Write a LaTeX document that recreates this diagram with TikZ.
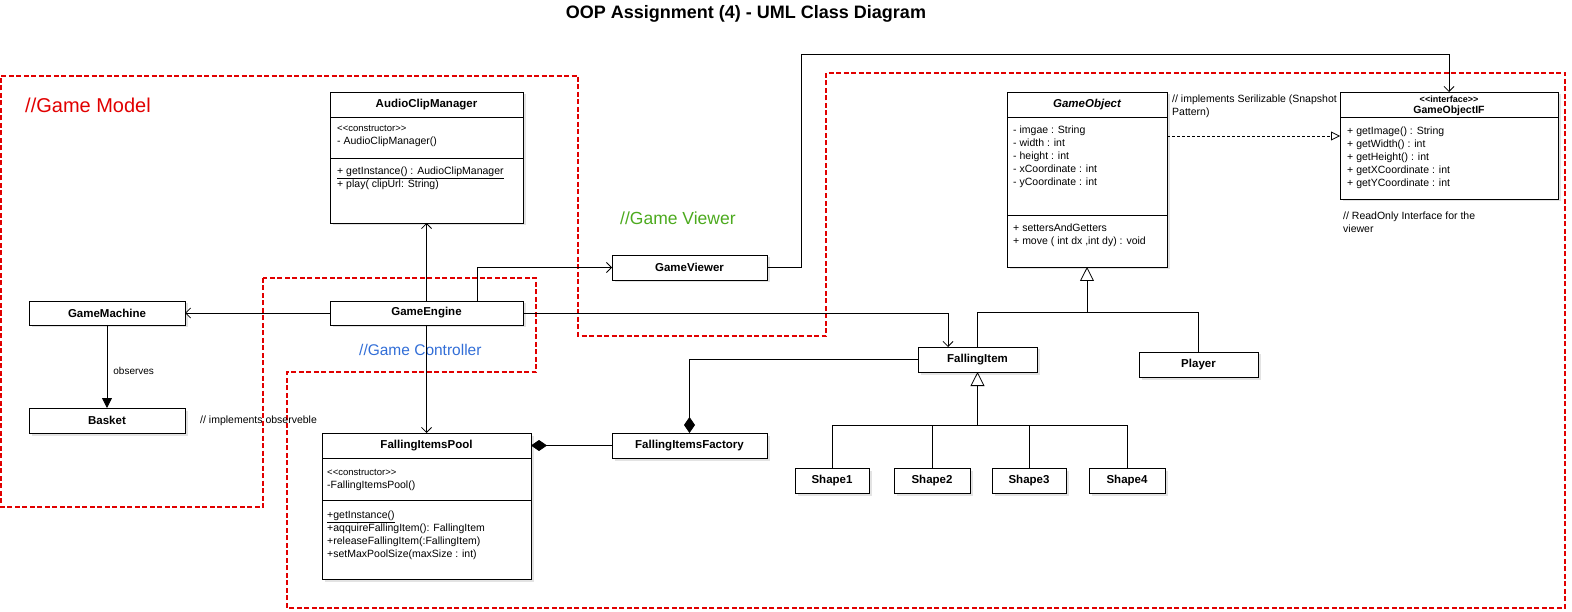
\documentclass[tikz,border=0pt]{standalone}
\usepackage{fontspec}
\setmainfont{Liberation Sans}
\usetikzlibrary{arrows.meta,shadows}
\definecolor{regred}{RGB}{225,0,0}
\definecolor{viewgreen}{RGB}{76,170,30}
\definecolor{ctrlblue}{RGB}{50,110,215}

\begin{document}
\begin{tikzpicture}[x=1pt,y=-1pt,
  cls/.style={draw,fill=white,line width=0.8pt,inner sep=0pt,outer sep=0pt,anchor=north west,
    font=\fontsize{11.5}{13}\selectfont\bfseries,
    drop shadow={opacity=0.22,shadow xshift=2.5pt,shadow yshift=-2.5pt}},
  clsname/.style={inner sep=0pt,font=\fontsize{11.5}{13}\selectfont\bfseries},
  mem/.style={anchor=north west,inner sep=0pt,align=left,font=\fontsize{10.5}{13}\selectfont},
  note/.style={anchor=north west,inner sep=0pt,align=left,font=\fontsize{10.5}{13}\selectfont},
  region/.style={draw=regred,line width=1.4pt,dash pattern=on 5pt off 2.5pt},
  conn/.style={line width=0.8pt},
  uses/.style={conn,-{Straight Barb[length=5pt,width=10pt]}},
  inherits/.style={conn,-{Triangle[open,length=14pt,width=14pt,fill=white]}},
  realizes/.style={conn,dash pattern=on 3pt off 2pt,-{Triangle[open,length=9pt,width=9pt,fill=white]}},
  owns/.style={conn,{Diamond[length=16pt,width=11pt]}-},
  observes/.style={conn,-{Triangle[length=10pt,width=10pt]}}]
  \useasboundingbox (0,0) rectangle (1572,612);

  \draw[region] (263,278) -- (263,507) -- (1,507) -- (1,76) -- (578,76) -- (578,336)
    -- (826,336) -- (826,73) -- (1565,73) -- (1565,608) -- (287,608) -- (287,372)
    -- (536,372) -- (536,278) -- cycle;

  \node[font=\fontsize{18}{20}\selectfont\bfseries] (title) at (746,14) {OOP Assignment (4) - UML Class Diagram};
  \node[anchor=west,inner sep=0pt,text=regred,font=\fontsize{20}{22}\selectfont] (model-lbl) at (25,105) {//Game Model};
  \node[anchor=west,inner sep=0pt,text=viewgreen,font=\fontsize{17.5}{20}\selectfont] (viewer-lbl) at (620,218) {//Game Viewer};
  \node[anchor=west,inner sep=0pt,text=ctrlblue,font=\fontsize{15.5}{18}\selectfont] (ctrl-lbl) at (359,350) {//Game Controller};

  \node[cls,minimum width=193pt,minimum height=131pt] (audio) at (330,92) {};
  \node[clsname] (audio-t) at ([yshift=-12.5pt]audio.north) {AudioClipManager};
  \draw[conn] ([yshift=-25pt]audio.north west) -- ([yshift=-25pt]audio.north east);
  \draw[conn] ([yshift=-66pt]audio.north west) -- ([yshift=-66pt]audio.north east);
  \node[mem] (audio-c) at ([xshift=7pt,yshift=-33pt]audio.north west)
    {{\fontsize{9.5}{13}\selectfont <{}<constructor>{}>}\\- AudioClipManager()};
  \node[mem] (audio-m) at ([xshift=7pt,yshift=-75pt]audio.north west)
    {\underline{+ getInstance() : AudioClipManager}\\+ play( clipUrl: String)};

  \node[cls,minimum width=160pt,minimum height=175pt] (gobj) at (1007,92) {};
  \node[clsname] (gobj-t) at ([yshift=-12.5pt]gobj.north) {\itshape GameObject};
  \draw[conn] ([yshift=-25pt]gobj.north west) -- ([yshift=-25pt]gobj.north east);
  \draw[conn] ([yshift=-123pt]gobj.north west) -- ([yshift=-123pt]gobj.north east);
  \node[mem] (gobj-a) at ([xshift=6pt,yshift=-34pt]gobj.north west)
    {- imgae : String\\- width : int\\- height : int\\- xCoordinate : int\\- yCoordinate : int};
  \node[mem] (gobj-m) at ([xshift=6pt,yshift=-132pt]gobj.north west)
    {+ settersAndGetters\\+ move ( int dx ,int dy) : void};

  \node[note] (serial-note) at (1172,95) {// implements Serilizable (Snapshot\\Pattern)};

  \node[cls,minimum width=218pt,minimum height=107pt] (goif) at (1340,92) {};
  \node[inner sep=0pt,font=\fontsize{9}{11}\selectfont\bfseries] (goif-s) at ([yshift=-7pt]goif.north) {<{}<interface>{}>};
  \node[inner sep=0pt,font=\fontsize{10.5}{12}\selectfont\bfseries] (goif-t) at ([yshift=-18.5pt]goif.north) {GameObjectIF};
  \draw[conn] ([yshift=-25pt]goif.north west) -- ([yshift=-25pt]goif.north east);
  \node[mem] (goif-m) at ([xshift=7pt,yshift=-35pt]goif.north west)
    {+ getImage() : String\\+ getWidth() : int\\+ getHeight() : int\\+ getXCoordinate : int\\+ getYCoordinate : int};
  \node[note] (readonly-note) at (1343,212) {// ReadOnly Interface for the\\viewer};

  \node[cls,minimum width=209pt,minimum height=146pt] (pool) at (322,433) {};
  \node[clsname] (pool-t) at ([yshift=-12.5pt]pool.north) {FallingItemsPool};
  \draw[conn] ([yshift=-25pt]pool.north west) -- ([yshift=-25pt]pool.north east);
  \draw[conn] ([yshift=-67pt]pool.north west) -- ([yshift=-67pt]pool.north east);
  \node[mem] (pool-c) at ([xshift=5pt,yshift=-36pt]pool.north west)
    {{\fontsize{9.5}{13}\selectfont <{}<constructor>{}>}\\-FallingItemsPool()};
  \node[mem] (pool-m) at ([xshift=5pt,yshift=-78pt]pool.north west)
    {\underline{+getInstance()}\\+aqquireFallingItem(): FallingItem\\+releaseFallingItem(:FallingItem)\\+setMaxPoolSize(maxSize : int)};

  \node[cls,minimum width=156pt,minimum height=24pt] (machine) at (29,301) {GameMachine};
  \node[cls,minimum width=193pt,minimum height=24pt] (engine) at (330,301) {GameEngine};
  \node[cls,minimum width=156pt,minimum height=25pt] (basket) at (29,408) {Basket};
  \node[cls,minimum width=155pt,minimum height=25pt] (viewer) at (612,255) {GameViewer};
  \node[cls,minimum width=119pt,minimum height=25pt] (item) at (918,347) {FallingItem};
  \node[cls,minimum width=119pt,minimum height=25pt] (player) at (1139,352) {Player};
  \node[cls,minimum width=155pt,minimum height=25pt] (factory) at (612,433) {FallingItemsFactory};
  \node[cls,minimum width=74pt,minimum height=25pt] (shape1) at (795,468) {Shape1};
  \node[cls,minimum width=76pt,minimum height=25pt] (shape2) at (894,468) {Shape2};
  \node[cls,minimum width=74pt,minimum height=25pt] (shape3) at (992,468) {Shape3};
  \node[cls,minimum width=76pt,minimum height=25pt] (shape4) at (1089,468) {Shape4};

  \node[note,anchor=west] (observe-note) at (200,421) {// implements observeble};

  \coordinate (vbend) at (801,54);
  \coordinate (real) at (1250,136);
  \coordinate (gjoin) at (1087,312);
  \coordinate (sjoin) at (977.5,425);

  \draw[uses] (engine.north) -- (audio.south);
  \draw[uses] ([xshift=50.5pt]engine.north) |- (viewer.west);
  \draw[uses] (engine.west) -- (machine.east);
  \draw[uses] (engine.south) -- (pool.north);
  \draw[uses] (engine.east) -| ([xshift=-29.5pt]item.north);
  \draw[uses] (viewer.east) -| (vbend) -| (goif.north);
  \draw[realizes] (gobj.east |- real) -- (goif.west |- real);
  \draw[observes] (machine.south) -- node[pos=0.55,right=6pt,inner sep=0pt,font=\fontsize{10}{12}\selectfont] (observes-lbl) {observes} (basket.north);

  \draw[conn] (item.north) |- (player.north |- gjoin) -- (player.north);
  \draw[inherits] (gjoin) -- (gobj.south);
  \draw[conn] (shape1.north) |- (shape4.north |- sjoin) -- (shape4.north);
  \draw[conn] (shape2.north) -- (shape2.north |- sjoin);
  \draw[conn] (shape3.north) -- (shape3.north |- sjoin);
  \draw[inherits] (sjoin) -- (item.south);

  \draw[owns] (factory.north) |- (item.west);
  \draw[owns] (pool.east |- factory.west) -- (factory.west);
\end{tikzpicture}
\end{document}
